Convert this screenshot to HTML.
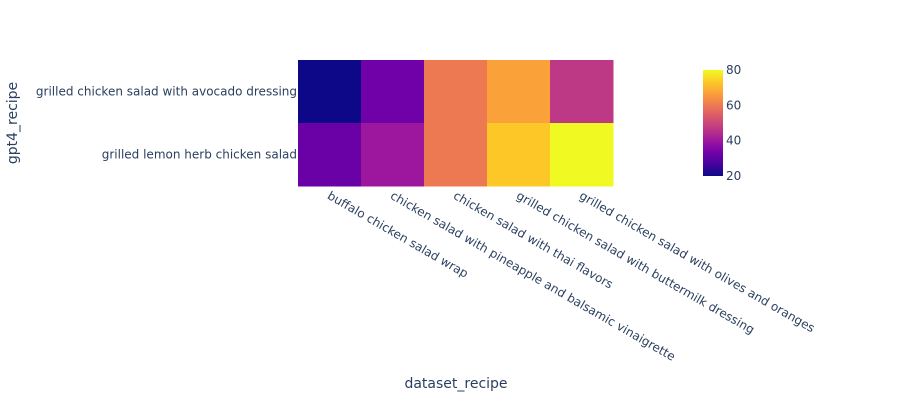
<!DOCTYPE html>
<html><head><meta charset="utf-8"><style>
body{margin:0;background:#fff}
svg text{font-family:"DejaVu Sans",sans-serif;fill:#2a3f5f}
</style></head><body>
<svg id="chart" width="900" height="400" xmlns="http://www.w3.org/2000/svg">
<defs><linearGradient id="cb" x1="0" y1="1" x2="0" y2="0">
<stop offset="0" stop-color="#0d0887"/><stop offset="0.111" stop-color="#46039f"/><stop offset="0.222" stop-color="#7201a8"/><stop offset="0.333" stop-color="#9c179e"/><stop offset="0.444" stop-color="#bd3786"/><stop offset="0.556" stop-color="#d8576b"/><stop offset="0.667" stop-color="#ed7953"/><stop offset="0.778" stop-color="#fb9f3a"/><stop offset="0.889" stop-color="#fdca26"/><stop offset="1" stop-color="#f0f921"/></linearGradient></defs>
<g id="cells"></g>
<g id="xt"></g>
<g id="yt"></g>
<text x="456" y="388" text-anchor="middle" font-size="14">dataset_recipe</text>
<text transform="translate(17,123) rotate(-90)" text-anchor="middle" font-size="14">gpt4_recipe</text>
<g>
<rect x="703" y="70" width="20" height="106" fill="url(#cb)"/>
<g id="cbt"></g>
</g>
</svg>
<script>
const xCats=["buffalo chicken salad wrap","chicken salad with pineapple and balsamic vinaigrette","chicken salad with thai flavors","grilled chicken salad with buttermilk dressing","grilled chicken salad with olives and oranges"];
const yCats=["grilled chicken salad with avocado dressing","grilled lemon herb chicken salad"];
const zRow1=[20,33,60,67,47];
const zRow2=[32,40,60,73,80];
const cbTicks=[20,40,60,80];
const zMin=20,zMax=80;
const stops=["#0d0887","#46039f","#7201a8","#9c179e","#bd3786","#d8576b","#ed7953","#fb9f3a","#fdca26","#f0f921"];
function color(v){let t=(v-zMin)/(zMax-zMin);t=Math.max(0,Math.min(1,t));const p=t*(stops.length-1),i=Math.min(Math.floor(p),stops.length-2),f=p-i;
const a=stops[i],b=stops[i+1];const c=k=>Math.round(parseInt(a.substr(k,2),16)*(1-f)+parseInt(b.substr(k,2),16)*f);
return `rgb(${c(1)},${c(3)},${c(5)})`;}
const X0=298,X1=613,Y0=60,Y1=186;
const cw=(X1-X0)/xCats.length,ch=(Y1-Y0)/yCats.length;
const xs=i=>X0+i*cw, ys=j=>Y0+j*ch;
const NS="http://www.w3.org/2000/svg";
const z=[zRow1,zRow2];
const cells=document.getElementById('cells');
z.forEach((row,j)=>row.forEach((v,i)=>{const r=document.createElementNS(NS,'rect');


r.setAttribute('x',xs(i));r.setAttribute('y',ys(j));r.setAttribute('width',cw+0.5);r.setAttribute('height',ch+0.5);r.setAttribute('fill',color(v));cells.appendChild(r);}));
const xt=document.getElementById('xt');
xCats.forEach((c,i)=>{const t=document.createElementNS(NS,'text');


const cx=xs(i)+cw/2;t.setAttribute('transform',`translate(${cx-3},${Y1+12}) rotate(30)`);t.setAttribute('font-size','12');t.textContent=c;xt.appendChild(t);});
const yt=document.getElementById('yt');
yCats.forEach((c,j)=>{const t=document.createElementNS(NS,'text');


t.setAttribute('x',X0-1);t.setAttribute('y',ys(j)+ch/2+4);t.setAttribute('text-anchor','end');t.setAttribute('font-size','12');t.textContent=c;yt.appendChild(t);});
const cbt=document.getElementById('cbt');
cbTicks.forEach(v=>{const t=document.createElementNS(NS,'text');


t.setAttribute('x',726);t.setAttribute('y',176-(v-zMin)/(zMax-zMin)*106+4);t.setAttribute('font-size','12');t.textContent=v;cbt.appendChild(t);});
</script>
</body></html>
